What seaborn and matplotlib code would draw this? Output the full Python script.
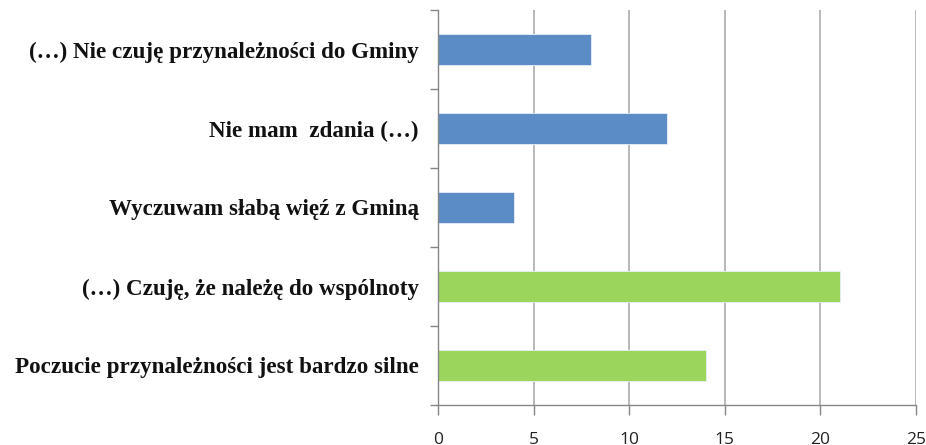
import matplotlib
matplotlib.use("Agg")
import matplotlib.pyplot as plt
import seaborn as sns
import pandas as pd
import numpy as np

categories = [
    "(…) Nie czuję przynależności do Gminy",
    "Nie mam  zdania (…)",
    "Wyczuwam słabą więź z Gminą",
    "(…) Czuję, że należę do wspólnoty",
    "Poczucie przynależności jest bardzo silne",
]
values = [8, 12, 4, 21, 14]
groups = ["neg", "neg", "neg", "pos", "pos"]
palette = {"neg": "#5B8CC5", "pos": "#9CD55C"}
xticks = [0, 5, 10, 15, 20, 25]

df = pd.DataFrame({"cat": categories, "val": values, "grp": groups})

sns.set_theme(style="white")
fig = plt.figure(figsize=(9.26, 4.45), dpi=100)
ax = fig.add_axes([438/926, 1-405/445, (916-438)/926, (405-10)/445])

sns.barplot(data=df, y="cat", x="val", hue="grp", palette=palette, orient="h",
            width=0.4, dodge=False, legend=False, ax=ax, saturation=1,
            edgecolor="#E8F0F8", linewidth=0.6)

ax.set_xlim(0, 25)
ax.set_ylim(4.5, -0.5)
ax.set_xticks(xticks)
ax.set_xticklabels([str(t) for t in xticks], fontsize=12.5, family="Open Sans", color="#222222")
ax.set_ylabel("")
ax.set_xlabel("")
for t in xticks[1:]:
    ax.axvline(t, color="#A6A6A6", lw=1.1, zorder=0)

ax.set_yticks(range(len(categories)))
ax.set_yticklabels(categories, fontsize=16.6, family="Liberation Serif", fontweight="bold", color="#111111")
ax.tick_params(axis="y", length=0, pad=14)
ax.set_yticks(np.arange(-0.5, len(categories), 1.0), minor=True)
ax.tick_params(axis="y", which="minor", length=6, color="#868686", width=1, left=True)
ax.tick_params(axis="x", length=7, color="#868686", width=1, pad=12.5, bottom=True)

for s in ["top", "right"]:
    ax.spines[s].set_visible(False)
for s in ["left", "bottom"]:
    ax.spines[s].set_color("#868686")
    ax.spines[s].set_linewidth(1)

fig.savefig("out.png", dpi=100)
